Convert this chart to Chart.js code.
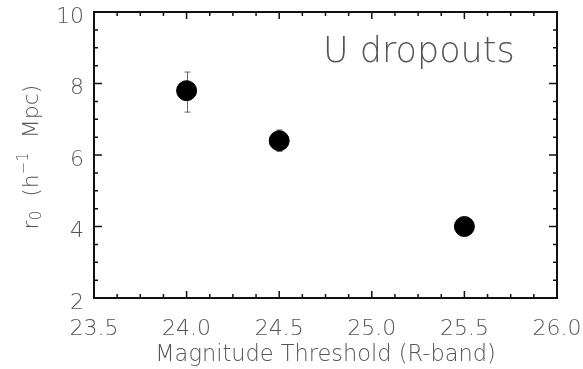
<!DOCTYPE html>
<html>
<head>
<meta charset="utf-8">
<script src="https://cdn.jsdelivr.net/npm/chart.js@4"></script>
<style>
  html, body { margin: 0; padding: 0; background: #fff; }
  #wrap { width: 583px; height: 369px; }
</style>
</head>
<body>
<div id="wrap"><canvas id="chart"></canvas></div>
<script>
  // values
  const magnitudes = [24.0, 24.5, 25.5];
  const r0 = [7.8, 6.4, 4.0];
  const r0Low = [7.2, 6.1, 3.8];
  const r0High = [8.32, 6.7, 4.2];

  const xTicks = [23.5, 24.0, 24.5, 25.0, 25.5, 26.0];
  const yTicks = [2, 4, 6, 8, 10];
  const xMinorStep = 0.125;
  const yMinorStep = 0.5;

  const FONT = "'DejaVu Sans', sans-serif";
  const TEXT = "#555";

  // IDL-like box: inward ticks on all four sides + error bars + labels
  const boxPlugin = {
    id: "box",
    beforeDatasetsDraw(chart) {
      const { ctx, scales: { x, y } } = chart;
      ctx.save();
      ctx.strokeStyle = "#666";
      ctx.lineWidth = 1;
      magnitudes.forEach((m, i) => {
        const px = Math.round(x.getPixelForValue(m)) + 0.5;
        const lo = y.getPixelForValue(r0Low[i]);
        const hi = y.getPixelForValue(r0High[i]);
        ctx.beginPath();
        ctx.moveTo(px, lo); ctx.lineTo(px, hi);
        ctx.moveTo(px - 3, lo); ctx.lineTo(px + 3, lo);
        ctx.moveTo(px - 3, hi); ctx.lineTo(px + 3, hi);
        ctx.stroke();
      });
      ctx.restore();
    },
    afterDraw(chart) {
      const { ctx, chartArea: a, scales: { x, y } } = chart;
      ctx.save();
      ctx.strokeStyle = "#111";
      ctx.lineWidth = 1.5;
      const nx = Math.round((x.max - x.min) / xMinorStep);
      for (let i = 0; i <= nx; i++) {
        const v = x.min + i * xMinorStep;
        const px = x.getPixelForValue(v);
        const len = i % 4 === 0 ? 7 : 4;
        ctx.beginPath();
        ctx.moveTo(px, a.bottom); ctx.lineTo(px, a.bottom - len);
        ctx.moveTo(px, a.top); ctx.lineTo(px, a.top + len);
        ctx.stroke();
      }
      const ny = Math.round((y.max - y.min) / yMinorStep);
      for (let i = 0; i <= ny; i++) {
        const v = y.min + i * yMinorStep;
        const py = y.getPixelForValue(v);
        const len = i % 4 === 0 ? 8 : 4;
        ctx.beginPath();
        ctx.moveTo(a.left, py); ctx.lineTo(a.left + len, py);
        ctx.moveTo(a.right, py); ctx.lineTo(a.right - len, py);
        ctx.stroke();
      }
      ctx.lineWidth = 2;
      ctx.strokeRect(a.left, a.top, a.right - a.left, a.bottom - a.top);

      // in-plot label
      ctx.fillStyle = TEXT;
      ctx.font = `300 35px ${FONT}`;
      ctx.textBaseline = "middle";
      ctx.textAlign = "left";
      ctx.fillText("U dropouts", 323, 53);

      // y title with sub/superscripts, rotated
      ctx.translate(32, 157);
      ctx.rotate(-Math.PI / 2);
      const parts = [
        ["r", 22, 0], ["0", 15, 5], ["  (h", 22, 0], ["\u22121", 15, -8], ["  Mpc)", 22, 0],
      ];
      let w = 0;
      parts.forEach(([t, s]) => { ctx.font = `300 ${s}px ${FONT}`; w += ctx.measureText(t).width; });
      let cx = -w / 2;
      parts.forEach(([t, s, dy]) => {
        ctx.font = `300 ${s}px ${FONT}`;
        ctx.fillText(t, cx, dy);
        cx += ctx.measureText(t).width;
      });
      ctx.restore();
    },
  };

  new Chart(document.getElementById("chart"), {
    type: "scatter",
    data: {
      datasets: [{
        data: magnitudes.map((m, i) => ({ x: m, y: r0[i] })),
        backgroundColor: "#000",
        borderColor: "#000",
        pointRadius: 10,
        pointHoverRadius: 10,
      }],
    },
    options: {
      responsive: true,
      maintainAspectRatio: false,
      animation: false,
      events: [],
      layout: { padding: { left: 0, right: 26, top: 12, bottom: 0 } },
      plugins: { legend: { display: false }, tooltip: { enabled: false } },
      scales: {
        x: {
          type: "linear",
          min: 23.5, max: 26.0,
          afterBuildTicks: (s) => { s.ticks = xTicks.map((v) => ({ value: v })); },
          afterFit: (s) => {
            s.height = 71;
            s.paddingLeft = 0; s.paddingRight = 0;
          },
          grid: { display: false, drawTicks: false },
          border: { display: false },
          ticks: {
            padding: 18,
            maxRotation: 0,
            color: TEXT,
            font: { family: FONT, size: 22, weight: "300" },
            callback: (v) => Number(v).toFixed(1),
          },
          title: {
            display: true,
            text: "Magnitude Threshold (R-band)",
            color: TEXT,
            font: { family: FONT, size: 22.5, weight: "300" },
            padding: { top: 0, bottom: 0 },
          },
        },
        y: {
          type: "linear",
          min: 2, max: 10,
          afterBuildTicks: (s) => { s.ticks = yTicks.map((v) => ({ value: v })); },
          afterFit: (s) => {
            s.width = 94;
            s.paddingTop = 0; s.paddingBottom = 0;
          },
          grid: { display: false, drawTicks: false },
          border: { display: false },
          ticks: {
            padding: 10,
            labelOffset: 5,
            color: TEXT,
            font: { family: FONT, size: 22, weight: "300" },
          },
        },
      },
    },
    plugins: [boxPlugin],
  });
</script>
</body>
</html>
